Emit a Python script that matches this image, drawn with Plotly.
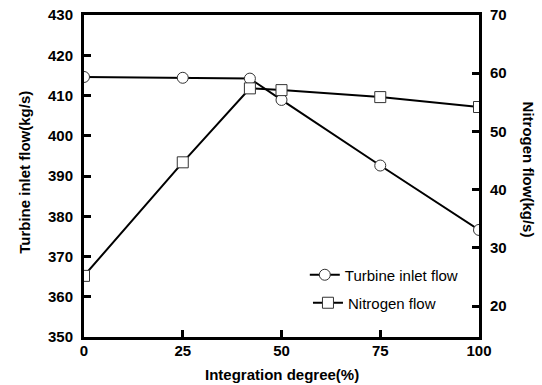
import plotly.graph_objects as go

integration = [0, 25, 42, 50, 75, 100]
turbine_flow = [414.6, 414.4, 414.2, 408.9, 392.6, 376.6]
nitrogen_flow = [25.2, 44.7, 57.4, 57.1, 55.9, 54.2]

left_ticks = [350, 360, 370, 380, 390, 400, 410, 420, 430]
right_ticks = [20, 30, 40, 50, 60, 70]
x_ticks = [0, 25, 50, 75, 100]

FONT = "Liberation Sans, Arial, sans-serif"

fig = go.Figure()
fig.add_trace(go.Scatter(
    x=integration, y=turbine_flow, name="Turbine inlet flow",
    mode="lines+markers", showlegend=True,
    line=dict(color="black", width=2),
    marker=dict(symbol="circle", size=11, color="white", line=dict(color="#333", width=1)),
    legend="legend",
))
fig.add_trace(go.Scatter(
    x=integration, y=nitrogen_flow, name="Nitrogen flow",
    mode="lines+markers", yaxis="y2", showlegend=True,
    line=dict(color="black", width=2),
    marker=dict(symbol="square", size=11, color="white", line=dict(color="#333", width=1)),
    legend="legend2",
))

axis_common = dict(
    showline=True, linecolor="black", linewidth=3, ticks="inside",
    ticklen=7, tickwidth=2.5, tickcolor="black", showgrid=False, zeroline=False,
    automargin=False, ticklabeloverflow="allow",
    tickfont=dict(family=FONT, size=15, color="black", weight="bold"),
)

fig.update_layout(
    width=542, height=385,
    margin=dict(l=84, r=63, t=15, b=48),
    plot_bgcolor="white", paper_bgcolor="white",
    showlegend=True,
    xaxis=dict(range=[0, 100], tickvals=x_ticks, mirror=True, ticklabelstandoff=-2, **axis_common),
    yaxis=dict(range=[350, 430], tickvals=left_ticks, ticklabelstandoff=5, **axis_common),
    yaxis2=dict(range=[14.7, 70], tickvals=right_ticks, overlaying="y", side="right",
                ticklabelstandoff=5, **axis_common),
    legend=dict(x=0.559, y=0.1925, xanchor="left", yanchor="middle",
                font=dict(family=FONT, size=15, color="black"), bgcolor="rgba(0,0,0,0)"),
    legend2=dict(x=0.567, y=0.1056, xanchor="left", yanchor="middle",
                 font=dict(family=FONT, size=15, color="black"), bgcolor="rgba(0,0,0,0)"),
)

title_font = dict(family=FONT, size=15, color="black", weight="bold")
fig.add_annotation(text="Integration degree(%)", xref="paper", yref="paper", x=0.5, y=0,
                   xanchor="center", yanchor="middle", yshift=-37, showarrow=False,
                   font=title_font)
fig.add_annotation(text="Turbine inlet flow(kg/s)", xref="paper", yref="paper", x=0, y=0.51,
                   xanchor="center", yanchor="middle", xshift=-59, textangle=-90,
                   showarrow=False, font=title_font)
fig.add_annotation(text="Nitrogen flow(kg/s)", xref="paper", yref="paper", x=1, y=0.52,
                   xanchor="center", yanchor="middle", xshift=49, textangle=90,
                   showarrow=False, font=title_font)

# remove the default 8px page margin so the figure sits at the window's top-left
fig.write_html("out.html", config={"displayModeBar": False},
               post_script="document.body.style.margin='0';")
